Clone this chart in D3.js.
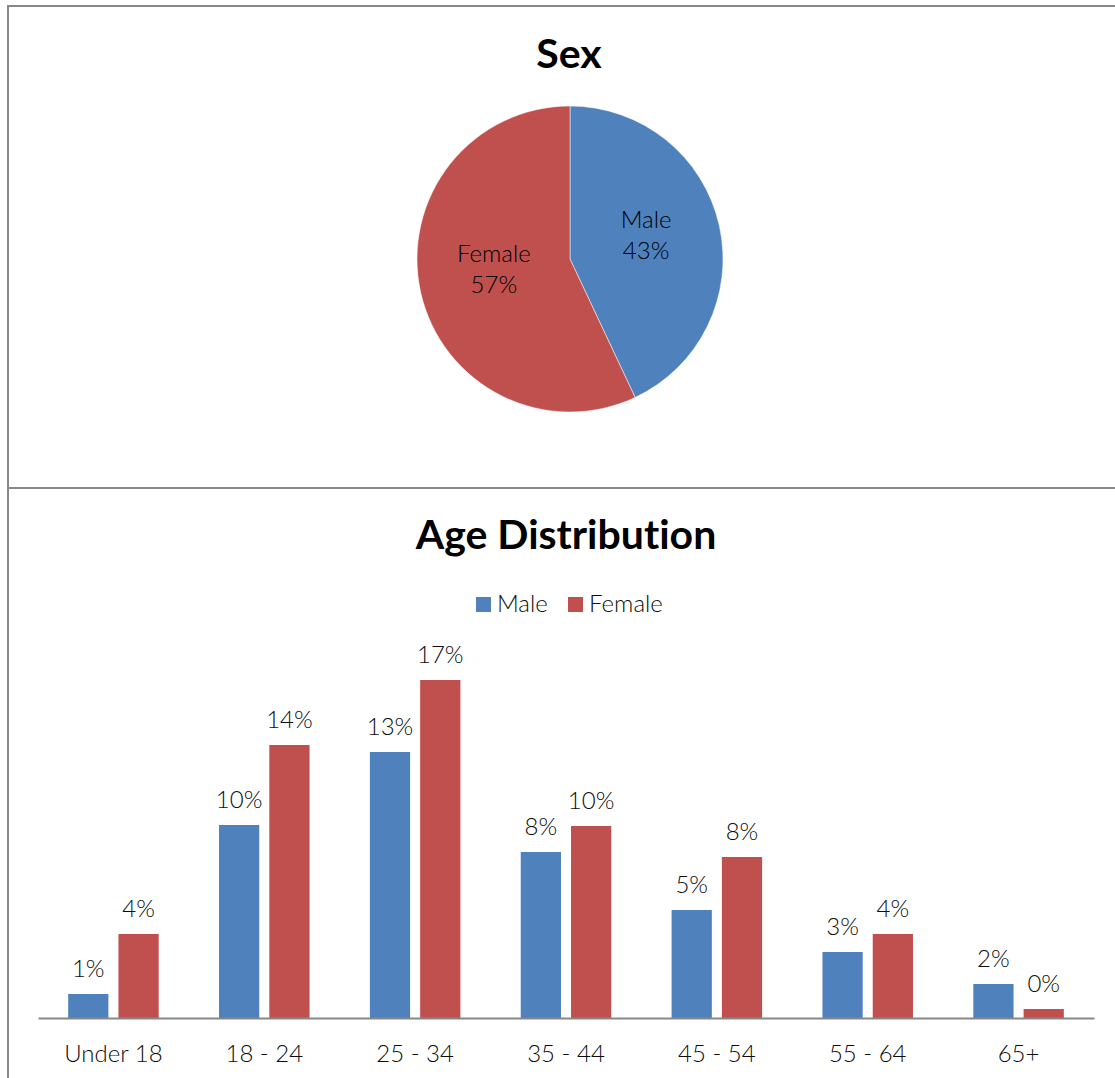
<!DOCTYPE html>
<html>
<head>
<meta charset="utf-8">
<script src="https://cdn.jsdelivr.net/npm/d3@7"></script>
<style>
  html, body { margin: 0; padding: 0; background: #fff; }
  svg { display: block; font-family: Lato, "Open Sans", sans-serif; font-variant-ligatures: none; }
  .light { font-weight: 300; }
</style>
</head>
<body>
<svg id="chart" width="1115" height="1078"></svg>
<script>
// Survey respondents by sex
const sexLabels = ["Male", "Female"];
const sexShares = [43, 57];

// Respondents by age group, split by sex (share of all respondents)
const ageGroups = ["Under 18", "18 - 24", "25 - 34", "35 - 44", "45 - 54", "55 - 64", "65+"];
const maleShares = [0.012, 0.0965, 0.133, 0.083, 0.054, 0.033, 0.017];
const femaleShares = [0.042, 0.1365, 0.169, 0.096, 0.0805, 0.042, 0.0045];

const colors = { Male: "#4F81BD", Female: "#C0504D" };
const frameColor = "#888888";
const textColor = "#0d0d0d";

const svg = d3.select("#chart");
const W = 1115, H = 1078;

// Panel frames
const frame = svg.append("g").attr("stroke", frameColor).attr("stroke-width", 2);
frame.append("line").attr("x1", 7).attr("x2", W).attr("y1", 6).attr("y2", 6);
frame.append("line").attr("x1", 8).attr("x2", 8).attr("y1", 5).attr("y2", H);
frame.append("line").attr("x1", 7).attr("x2", W).attr("y1", 488).attr("y2", 488);

// ---------- Sex pie ----------
svg.append("text")
  .attr("x", 569).attr("y", 68)
  .attr("text-anchor", "middle")
  .attr("font-size", 41).attr("font-weight", 700).attr("fill", "#000")
  .text("Sex");

const pieCx = 570, pieCy = 259, pieR = 153;
const pieData = d3.pie().sort(null)(sexShares)
  .map((a, i) => Object.assign(a, { label: sexLabels[i] }));
const arc = d3.arc().innerRadius(0).outerRadius(pieR);
const labelArc = d3.arc().innerRadius(0).outerRadius(pieR * 1.02);

const pieG = svg.append("g").attr("transform", `translate(${pieCx},${pieCy})`);
pieG.selectAll("path").data(pieData).join("path")
  .attr("d", arc)
  .attr("fill", d => colors[d.label])
  .attr("stroke", "#fff").attr("stroke-width", 0.5);

const pieLabels = pieG.selectAll("text.slice").data(pieData).join("text")
  .attr("class", "slice light")
  .attr("transform", d => `translate(${labelArc.centroid(d)})`)
  .attr("text-anchor", "middle")
  .attr("font-size", 24).attr("fill", "#000");
pieLabels.append("tspan").attr("x", 0).attr("y", -14).text(d => d.label);
pieLabels.append("tspan").attr("x", 0).attr("y", 17).text(d => d.data + "%");

// ---------- Age distribution bars ----------
svg.append("text")
  .attr("x", 566).attr("y", 549)
  .attr("text-anchor", "middle")
  .attr("font-size", 41).attr("font-weight", 700).attr("fill", "#000")
  .text("Age Distribution");

// Legend
const legend = svg.append("g").attr("class", "light").attr("font-size", 24).attr("fill", textColor);
const legendItems = [{ key: "Male", x: 476 }, { key: "Female", x: 568 }];
legendItems.forEach(item => {
  legend.append("rect").attr("x", item.x).attr("y", 597).attr("width", 15).attr("height", 15)
    .attr("fill", colors[item.key]);
  legend.append("text").attr("x", item.x + 21).attr("y", 612).text(item.key);
});

const baseY = 1018;
const x = d3.scaleBand().domain(ageGroups).range([38, 1094]).paddingInner(0.4).paddingOuter(0.2);
const xSeries = d3.scaleBand().domain(["Male", "Female"]).range([0, x.bandwidth()]).paddingInner(0.2);
const y = d3.scaleLinear().domain([0, 0.2]).range([baseY, baseY - 400]);

const rows = ageGroups.map((g, i) => ({
  group: g,
  values: [{ key: "Male", v: maleShares[i] }, { key: "Female", v: femaleShares[i] }]
}));
const pct = d3.format(".0%");

const groups = svg.append("g").selectAll("g").data(rows).join("g")
  .attr("transform", d => `translate(${x(d.group)},0)`);

groups.selectAll("rect").data(d => d.values).join("rect")
  .attr("x", d => xSeries(d.key))
  .attr("width", xSeries.bandwidth())
  .attr("y", d => y(d.v))
  .attr("height", d => y(0) - y(d.v))
  .attr("fill", d => colors[d.key]);

groups.selectAll("text").data(d => d.values).join("text")
  .attr("class", "light")
  .attr("x", d => xSeries(d.key) + xSeries.bandwidth() / 2)
  .attr("y", d => y(d.v) - 17)
  .attr("text-anchor", "middle")
  .attr("font-size", 24).attr("fill", textColor)
  .text(d => pct(d.v));

// Category axis
const xAxis = svg.append("g")
  .attr("transform", `translate(0,${baseY})`)
  .call(d3.axisBottom(d3.scaleBand().domain(ageGroups).range([38, 1094])).tickSize(0).tickSizeOuter(0));
xAxis.select(".domain").attr("stroke", frameColor).attr("stroke-width", 2);
xAxis.selectAll(".tick text")
  .attr("class", "light")
  .attr("y", 44).attr("dy", 0)
  .attr("font-family", "Lato, 'Open Sans', sans-serif")
  .attr("font-size", 24).attr("fill", textColor);
</script>
</body>
</html>
